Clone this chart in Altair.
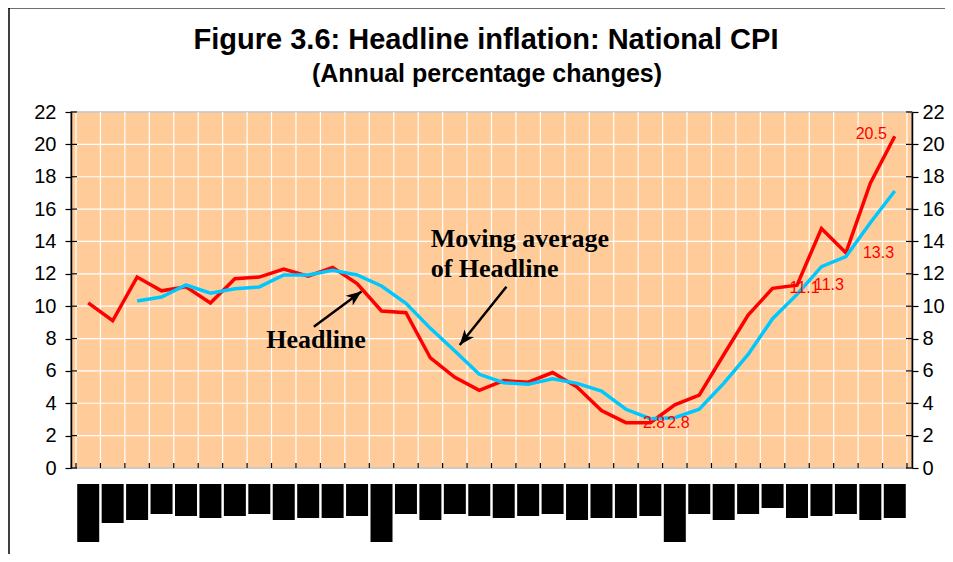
import altair as alt
import pandas as pd

# ---------------- data ----------------
n_periods = 34
headline = [10.2, 9.1, 11.8, 10.95, 11.2, 10.2, 11.7, 11.8, 12.3, 11.85,
            12.4, 11.4, 9.7, 9.6, 6.8, 5.6, 4.8, 5.4, 5.3, 5.9,
            5.0, 3.55, 2.8, 2.8, 3.9, 4.5, 7.0, 9.45, 11.1, 11.3,
            14.8, 13.3, 17.6, 20.5]
moving_avg = [None, None, 10.32, 10.57, 11.31, 10.8, 11.08, 11.19, 11.93, 11.93,
              12.22, 11.93, 11.25, 10.18, 8.63, 7.23, 5.79, 5.27, 5.17, 5.52,
              5.23, 4.76, 3.63, 3.05, 3.11, 3.63, 5.23, 7.02, 9.23, 10.73,
              12.44, 13.06, 15.16, 17.12]
# x tick labels in the source are unreadable black blocks; their lengths
label_block = [58, 39, 36, 30, 32, 34, 32, 30, 36, 34,
               34, 32, 58, 30, 36, 30, 32, 34, 32, 30,
               36, 34, 34, 32, 58, 30, 36, 30, 24, 34,
               32, 30, 36, 34]
labelled_right = [22, 23, 28, 29, 31]
labelled_left = [33]
y_ticks = list(range(0, 23, 2))

title_text = "Figure 3.6: Headline inflation: National CPI"
subtitle_text = "(Annual percentage changes)"

ann_text = ["Headline", "Moving average", "of Headline"]
ann_x = [9.82, 14.51, 14.51]
ann_y = [7.42, 13.68, 11.82]
ann_align = ["center", "left", "left"]
arrow_x0 = [9.73, 17.61]
arrow_y0 = [8.73, 11.2]
arrow_x1 = [11.68, 15.7]
arrow_y1 = [10.9, 7.6]
arrow_angle = [54, 219]

# ---------------- tables ----------------
df = pd.DataFrame({"i": list(range(n_periods)), "headline": headline,
                   "ma": moving_avg, "block": label_block})
lab_r = pd.DataFrame({"i": labelled_right,
                      "v": [headline[k] for k in labelled_right]})
lab_r["t"] = lab_r["v"].map(lambda v: f"{v:.1f}")
lab_l = pd.DataFrame({"i": labelled_left,
                      "v": [headline[k] for k in labelled_left]})
lab_l["t"] = lab_l["v"].map(lambda v: f"{v:.1f}")
ann = pd.DataFrame({"t": ann_text, "x": ann_x, "y": ann_y, "al": ann_align})
arr = pd.DataFrame({"x0": arrow_x0, "y0": arrow_y0, "x1": arrow_x1,
                    "y1": arrow_y1, "ang": arrow_angle})
yt = pd.DataFrame({"v": y_ticks})
xt = pd.DataFrame({"v": list(range(n_periods + 1))})
one = pd.DataFrame({"a": [0]})

W, H = 841, 356
xscale = alt.Scale(domain=[0, n_periods], nice=False, zero=False)
yscale = alt.Scale(domain=[0, 22], nice=False)

X = alt.X("xc:Q", scale=xscale,
          axis=alt.Axis(values=list(range(n_periods + 1)), labels=False,
                        title=None, grid=False, domainColor="black",
                        domainWidth=1.5, tickColor="black", tickSize=5,
                        tickWidth=1.2, zindex=1))

axis_common = dict(values=y_ticks, title=None, labelFont="Liberation Sans",
                   labelFontSize=20, labelColor="black", tickSize=6,
                   tickColor="black", tickWidth=1.2, domainColor="black",
                   domainWidth=1.5, grid=False, zindex=1)
left_axis = alt.Axis(orient="left", labelPadding=9, **axis_common)
right_axis = alt.Axis(orient="right", labelPadding=4, **axis_common)

base = alt.Chart(df).transform_calculate(xc="datum.i + 0.5")

# plot-area background and white grid
bg = alt.Chart(one).mark_rect(fill="#FFCC99", stroke="#808080",
                              strokeWidth=1.5).encode(
    x=alt.value(0), x2=alt.value(W), y=alt.value(0), y2=alt.value(H))
grid_h = alt.Chart(yt).mark_rule(color="white", strokeWidth=1.2).encode(
    x=alt.value(0), x2=alt.value(W),
    y=alt.Y("v:Q", scale=yscale, axis=None))
grid_v = alt.Chart(xt).mark_rule(color="white", strokeWidth=1.2).encode(
    x=alt.X("v:Q", scale=xscale, axis=None),
    y=alt.value(0), y2=alt.value(H))

red = base.mark_line(color="#FF0000", strokeWidth=3.5).encode(
    x=X, y=alt.Y("headline:Q", scale=yscale, axis=left_axis))
cyan = base.transform_filter("isValid(datum.ma)").mark_line(
    color="#00C8FF", strokeWidth=3.5).encode(
    x=X, y=alt.Y("ma:Q", scale=yscale, axis=right_axis))

txt_r = alt.Chart(lab_r).transform_calculate(xc="datum.i + 0.5").mark_text(
    font="Liberation Sans", fontSize=16, color="#FF0000", align="left",
    baseline="middle", dx=17).encode(
    x=X, y=alt.Y("v:Q", scale=yscale, axis=None), text="t:N")
txt_l = alt.Chart(lab_l).transform_calculate(xc="datum.i + 0.5").mark_text(
    font="Liberation Sans", fontSize=16, color="#FF0000", align="right",
    baseline="middle", dx=-8, dy=-2).encode(
    x=X, y=alt.Y("v:Q", scale=yscale, axis=None), text="t:N")

ann_layers = []
for al in ["center", "left"]:
    ann_layers.append(
        alt.Chart(ann).transform_filter(f"datum.al == '{al}'").mark_text(
            font="Liberation Serif", fontSize=26, fontWeight="bold",
            color="black", align=al, baseline="alphabetic").encode(
            x=alt.X("x:Q", scale=xscale, axis=None),
            y=alt.Y("y:Q", scale=yscale, axis=None), text="t:N"))

arrow_lines = alt.Chart(arr).mark_rule(color="black", strokeWidth=2.5).encode(
    x=alt.X("x0:Q", scale=xscale, axis=None),
    y=alt.Y("y0:Q", scale=yscale, axis=None), x2="x1:Q", y2="y1:Q")
arrow_heads = alt.Chart(arr).mark_point(
    shape="M0,0L0.8,2L0,1.45L-0.8,2Z", filled=True, color="black",
    opacity=1, size=230, strokeWidth=0).encode(
    x=alt.X("x1:Q", scale=xscale, axis=None),
    y=alt.Y("y1:Q", scale=yscale, axis=None),
    angle=alt.Angle("ang:Q", scale=None))

# inner halves of the crossing tick marks
tick_l = alt.Chart(yt).mark_rule(color="black", strokeWidth=1.2).encode(
    x=alt.value(0), x2=alt.value(6),
    y=alt.Y("v:Q", scale=yscale, axis=None))
tick_r = alt.Chart(yt).mark_rule(color="black", strokeWidth=1.2).encode(
    x=alt.value(W - 6), x2=alt.value(W),
    y=alt.Y("v:Q", scale=yscale, axis=None))
tick_b = alt.Chart(xt).mark_rule(color="black", strokeWidth=1.2).encode(
    x=alt.X("v:Q", scale=xscale, axis=None),
    y=alt.value(H - 5), y2=alt.value(H))

frame_top = alt.Chart(one).mark_rule(color="#404040", strokeWidth=1.5).encode(
    x=alt.value(-63), x2=alt.value(W + 35), y=alt.value(-104))
frame_left = alt.Chart(one).mark_rule(color="black", strokeWidth=1.5).encode(
    x=alt.value(-62), y=alt.value(-104), y2=alt.value(H + 90))

title_mark = alt.Chart(one).mark_text(
    text=title_text, font="Liberation Sans", fontSize=29, fontWeight="bold",
    color="black", align="center", baseline="alphabetic").encode(
    x=alt.value(415), y=alt.value(-63))
subtitle_mark = alt.Chart(one).mark_text(
    text=subtitle_text, font="Liberation Sans", fontSize=25,
    fontWeight="bold", color="black", align="center",
    baseline="alphabetic").encode(x=alt.value(416), y=alt.value(-30))

inner = alt.layer(bg, grid_h, grid_v, red, cyan, txt_r, txt_l, *ann_layers,
                  arrow_lines, arrow_heads, tick_l, tick_r, tick_b,
                  frame_top, frame_left, title_mark,
                  subtitle_mark).resolve_axis(y="independent")

blocks = base.mark_bar(color="black", size=22).encode(
    x=X,
    y=alt.Y("block:Q", axis=None,
            scale=alt.Scale(domain=[0, 60], range=[H + 16, H + 76],
                            nice=False, zero=True)))

chart = alt.layer(inner, blocks).resolve_scale(y="independent").properties(
    width=W, height=H,
    autosize=alt.AutoSizeParams(type="none"),
    padding={"left": 63, "top": 104, "right": 33, "bottom": 86},
).configure_view(stroke=None).configure(background="white")

chart.save("out.html", embed_options={"renderer": "svg", "actions": False})
